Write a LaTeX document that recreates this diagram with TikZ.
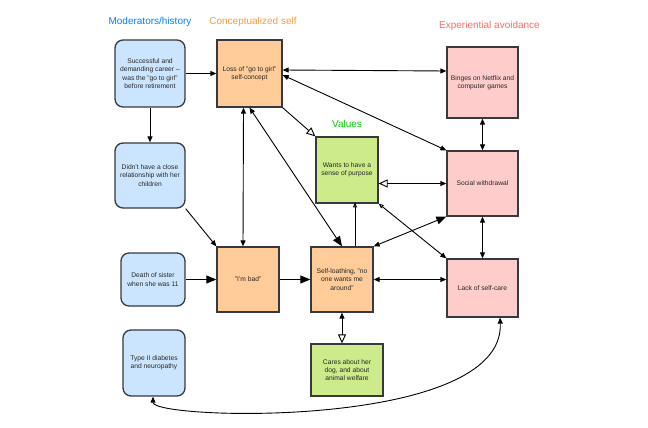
\documentclass[tikz,border=0pt]{standalone}
\usepackage{fontspec}
\setmainfont{Liberation Sans}
\usetikzlibrary{arrows.meta}
\definecolor{histfill}{HTML}{CCE5FF}
\definecolor{selffill}{HTML}{FFCC99}
\definecolor{valfill}{HTML}{CDEB8B}
\definecolor{avoidfill}{HTML}{FFCCCC}
\definecolor{boxline}{HTML}{36393D}
\definecolor{histtitle}{HTML}{007FFF}
\definecolor{selftitle}{HTML}{FF9933}
\definecolor{valtitle}{HTML}{00CC00}
\definecolor{avoidtitle}{HTML}{FF6666}
\tikzset{
  tipS/.tip={Triangle[length=6pt,width=5pt]},
  tipL/.tip={Triangle[length=10pt,width=8pt]},
  tipO/.tip={Triangle[open,length=9pt,width=8pt,fill=white]},
  tipOs/.tip={Triangle[open,length=5pt,width=4pt,fill=white]},
  box/.style={draw=boxline,line width=1.3pt,align=center,inner sep=1pt,
    font=\fontsize{6.7}{8.3}\selectfont,text=black!85},
  hist/.style={box,fill=histfill,rounded corners=8pt},
  cself/.style={box,fill=selffill},
  val/.style={box,fill=valfill},
  avoid/.style={box,fill=avoidfill},
  title/.style={font=\fontsize{10}{12}\selectfont},
  link/.style={line width=0.9pt}
}
\begin{document}
\begin{tikzpicture}[x=1pt,y=-1pt]
\useasboundingbox (0,0) rectangle (648,428);

\node[title,text=histtitle] (thist) at (150,22) {Moderators/history};
\node[title,text=selftitle] (tself) at (253,22) {Conceptualized self};
\node[title,text=valtitle] (tval) at (347,124) {Values};
\node[title,text=avoidtitle] (tavoid) at (489.5,26) {Experiential avoidance};

\node[hist,minimum width=70pt,minimum height=67pt] (career) at (150,73.5)
{Successful and\\demanding career --\\was the "go to girl"\\before retirement};
\node[hist,minimum width=70pt,minimum height=65pt] (didnt) at (150,175.5)
{Didn't have a close\\relationship with her\\children};
\node[hist,minimum width=64pt,minimum height=53pt] (death) at (153,279.5)
{Death of sister\\when she was 11};
\node[hist,minimum width=62pt,minimum height=66pt] (diabetes) at (154,363)
{Type II diabetes\\and neuropathy};

\node[cself,minimum width=65pt,minimum height=67pt] (loss) at (249.5,73.5)
{Loss of "go to girl"\\self-concept};
\node[cself,minimum width=62pt,minimum height=65pt] (bad) at (248,279.5)
{"I'm bad"};
\node[cself,minimum width=62pt,minimum height=65pt] (loathing) at (342,279.5)
{Self-loathing, "no\\one wants me\\around"};

\node[val,minimum width=62pt,minimum height=66pt] (purpose) at (347,170)
{Wants to have a\\sense of purpose};
\node[val,minimum width=72pt,minimum height=52pt] (dog) at (347,370)
{Cares about her\\dog, and about\\animal welfare};

\node[avoid,minimum width=71pt,minimum height=71pt] (binges) at (482.5,82.5)
{Binges on Netflix and\\computer games};
\node[avoid,minimum width=71pt,minimum height=65pt] (withdrawal) at (482.5,183.5)
{Social withdrawal};
\node[avoid,minimum width=71pt,minimum height=58pt] (selfcare) at (482.5,288)
{Lack of self-care};

\draw[link,-tipS] (career) -- (loss);
\draw[link,-tipS] (career) -- (didnt);
\draw[link,-tipS] (didnt.south east) -- (bad.north west);
\draw[link,tipS-tipS] ([xshift=-6pt]loss.south) -- ([xshift=-5pt]bad.north);
\draw[link,tipS-tipL] (loss.south) -- (loathing.north);
\draw[link,-tipO] (loss.south east) -- (purpose.north west);
\draw[link,tipS-tipS] ([yshift=3.5pt]loss.east) -- ([yshift=11.5pt]binges.west);
\draw[link,tipS-tipS] ([yshift=-1.5pt]loss.east) -- (withdrawal.north west);
\draw[link,tipS-tipS] (binges) -- (withdrawal);
\draw[link,tipO-tipS] (withdrawal.west -| purpose.east) -- (withdrawal.west);
\draw[link,-tipOs] ([xshift=13pt]loathing.north) -- ++(0,-44);
\draw[link,tipS-tipL] (loathing.north east) -- (withdrawal.south west);
\draw[link,tipOs-tipS] (purpose.south east) -- (selfcare.north west);
\draw[link,tipS-tipS] (withdrawal) -- (selfcare);
\draw[link,tipS-tipS] (loathing.east) -- (loathing.east -| selfcare.west);
\draw[link,-tipL] (bad) -- (loathing);
\draw[link,-tipL] (death) -- (bad);
\draw[link,tipS-tipO] (loathing.south) -- (loathing.south |- dog.north);
\draw[link,tipS-tipS] ([xshift=-1pt]diabetes.south) .. controls (153,420) and (505,430) .. ([xshift=17.5pt]selfcare.south);
\end{tikzpicture}
\end{document}
